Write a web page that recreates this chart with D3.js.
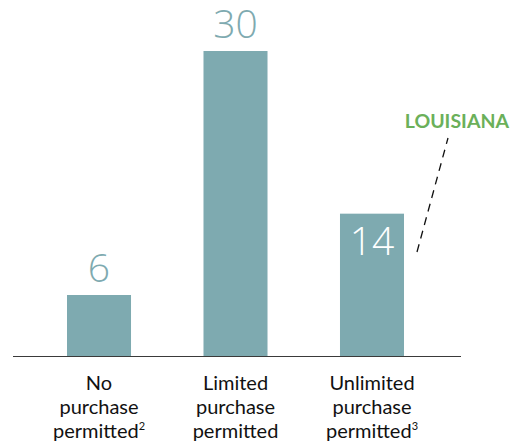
<!DOCTYPE html>
<html>
<head>
<meta charset="utf-8">
<script src="https://cdn.jsdelivr.net/npm/d3@7"></script>
<style>
  html, body { margin: 0; padding: 0; background: #fff; }
  svg { display: block; }
</style>
</head>
<body>
<svg id="chart" width="511" height="445"></svg>
<script>
// Number of states by purchase policy
const categories = ["No purchase permitted", "Limited purchase permitted", "Unlimited purchase permitted"];
const values = [6, 30, 14];
const labelLines = [
  ["No", "purchase", "permitted"],
  ["Limited", "purchase", "permitted"],
  ["Unlimited", "purchase", "permitted"]
];
const footnotes = ["2", "", "3"];
const calloutText = "LOUISIANA";
const calloutIndex = 2;

const barColor = "#7eaab0";
const calloutColor = "#6bb05a";

const svg = d3.select("#chart");
const baseY = 356;

const x = d3.scaleBand()
  .domain(categories)
  .range([67, 404])
  .paddingInner(0.531)
  .paddingOuter(0);

const y = d3.scaleLinear()
  .domain([0, 30])
  .range([baseY, 51]);

// bars
svg.selectAll("rect.bar")
  .data(values)
  .join("rect")
  .attr("class", "bar")
  .attr("x", (d, i) => x(categories[i]))
  .attr("y", d => y(d))
  .attr("width", x.bandwidth())
  .attr("height", d => baseY - y(d))
  .attr("fill", barColor);

// baseline
svg.append("line")
  .attr("x1", 13).attr("x2", 461)
  .attr("y1", baseY + 0.5).attr("y2", baseY + 0.5)
  .attr("stroke", "#3a3a3a")
  .attr("stroke-width", 1.2);

// value labels: above the bar, or inside it for the callout bar
svg.selectAll("text.value")
  .data(values)
  .join("text")
  .attr("class", "value")
  .attr("x", (d, i) => x(categories[i]) + x.bandwidth() / 2)
  .attr("y", (d, i) => i === calloutIndex ? y(d) + 41 : y(d) - 13)
  .attr("text-anchor", "middle")
  .attr("font-family", "'Open Sans', sans-serif")
  .attr("font-weight", 300)
  .attr("font-size", 39)
  .attr("fill", (d, i) => i === calloutIndex ? "#ffffff" : barColor)
  .text(d => d);

// category labels
const labels = svg.selectAll("text.cat")
  .data(labelLines)
  .join("text")
  .attr("class", "cat")
  .attr("text-anchor", "middle")
  .attr("font-family", "Lato, sans-serif")
  .attr("font-size", 20)
  .attr("fill", "#111");

labels.each(function(lines, i) {
  const cx = x(categories[i]) + x.bandwidth() / 2;
  const t = d3.select(this);
  lines.forEach((line, j) => {
    const ts = t.append("tspan")
      .attr("x", cx)
      .attr("y", 390 + j * 24)
      .text(line);
    if (j === lines.length - 1 && footnotes[i]) {
      ts.append("tspan")
        .attr("font-size", 11)
        .attr("dy", -8)
        .text(footnotes[i]);
    }
  });
});

// callout
const bx = x(categories[calloutIndex]) + x.bandwidth();
svg.append("line")
  .attr("x1", bx + 13).attr("y1", 252)
  .attr("x2", bx + 44).attr("y2", 138)
  .attr("stroke", "#111")
  .attr("stroke-width", 1.3)
  .attr("stroke-dasharray", "8,6");

svg.append("text")
  .attr("x", 509)
  .attr("y", 128)
  .attr("text-anchor", "end")
  .attr("font-family", "Lato, sans-serif")
  .attr("font-weight", 700)
  .attr("font-size", 19.5)
  .attr("fill", calloutColor)
  .text(calloutText);
</script>
</body>
</html>
